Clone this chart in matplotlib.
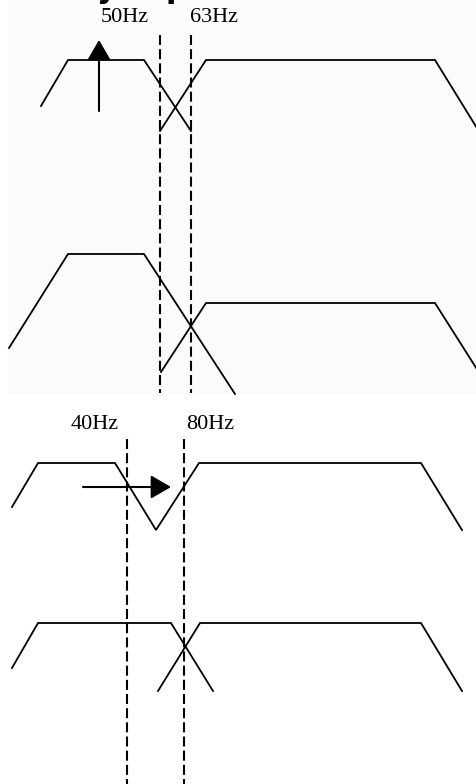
#!/usr/bin/env python3
"""
Crossover filter schematic: two band-split diagrams (50/63 Hz and 40/80 Hz)
"""

import matplotlib.pyplot as plt
from matplotlib.patches import Rectangle

# Schematic coordinates (x = frequency position,
# y = level position, both in picture units, y grows downwards)

# panel 1: 50 Hz / 63 Hz, filters overlapping
p1_low_x = [41, 68, 144, 191]
p1_low_y = [106, 60, 60, 131]
p1_high_x = [160, 206, 435, 480]
p1_high_y = [131, 60, 60, 133]

# panel 2: same crossover, low band raised
p2_low_x = [9, 68, 144, 235]
p2_low_y = [348, 254, 254, 394]
p2_high_x = [161, 206, 435, 480]
p2_high_y = [372, 303, 303, 374]

# panel 3: 40 Hz / 80 Hz, notch between bands
p3_x = [12, 38, 115, 156, 199, 421, 462]
p3_y = [507, 463, 463, 530, 463, 463, 530]

# panel 4: 40 Hz / 80 Hz, bands meeting at 80 Hz
p4_low_x = [12, 38, 171, 213]
p4_low_y = [668, 623, 623, 691]
p4_high_x = [158, 200, 421, 462]
p4_high_y = [691, 623, 623, 691]

# crossover frequency markers
top_freqs = ["50Hz", "63Hz"]
top_marks = [160, 191]
bottom_freqs = ["40Hz", "80Hz"]
bottom_marks = [127, 184]

W, H = 476, 784
fig = plt.figure(figsize=(W / 100, H / 100), dpi=100)
ax = fig.add_axes([0, 0, 1, 1])
ax.set_xlim(0, W)
ax.set_ylim(H, 0)
ax.axis("off")

# upper picture has a faint grey background
ax.add_patch(Rectangle((9, 0), W - 9, 394, facecolor="#fbfbfb", edgecolor="none", zorder=0))

curve_kw = dict(color="black", lw=1.3, solid_joinstyle="miter")
dash_kw = dict(color="black", lw=1.5, dashes=(4.8, 2.0))

for xs, ys in [(p1_low_x, p1_low_y), (p1_high_x, p1_high_y),
               (p2_low_x, p2_low_y), (p2_high_x, p2_high_y),
               (p3_x, p3_y),
               (p4_low_x, p4_low_y), (p4_high_x, p4_high_y)]:
    ax.plot(xs, ys, **curve_kw)

# dashed crossover lines
for xm in top_marks:
    ax.plot([xm, xm], [35, 393], **dash_kw)
for xm in bottom_marks:
    ax.plot([xm, xm], [439, H], **dash_kw)

# labels
label_kw = dict(fontsize=16, family="Liberation Serif", va="center")
for lab, xt in zip(top_freqs, [101, 190]):
    ax.text(xt, 17, lab, ha="left", **label_kw)
for lab, xt in zip(bottom_freqs, [71, 186]):
    ax.text(xt, 424, lab, ha="left", **label_kw)

# cut-off heading fragment at the very top
ax.text(97, -2, "y", fontsize=22, fontweight="bold", va="baseline", ha="left")
ax.text(166, -2, "p", fontsize=22, fontweight="bold", va="baseline", ha="left")

# arrows
arrow_kw = dict(arrowstyle="-|>,head_length=0.62,head_width=0.36",
                color="black", lw=1.5, shrinkA=0, shrinkB=0, mutation_scale=20)
ax.annotate("", xy=(99, 40), xytext=(99, 111), arrowprops=arrow_kw)
ax.annotate("", xy=(171, 487), xytext=(83, 487), arrowprops=arrow_kw)

fig.savefig("out.png", dpi=100, facecolor="white")
